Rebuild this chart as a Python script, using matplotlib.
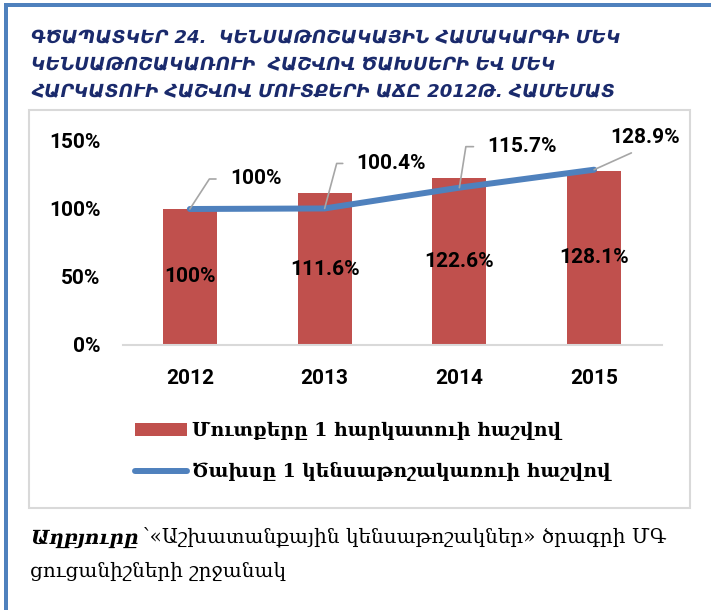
import matplotlib
matplotlib.use("Agg")
import matplotlib.pyplot as plt
from matplotlib.patches import Rectangle
import numpy as np

W, H = 711, 610
DPI = 100

years = ["2012", "2013", "2014", "2015"]
income_per_taxpayer = [100, 111.6, 122.6, 128.1]
expense_per_pensioner = [100, 100.4, 115.7, 128.9]
yticks = [0, 50, 100, 150]
ytick_labels = ["0%", "50%", "100%", "150%"]
legend_labels = ["Մուտքերը 1 հարկատուի հաշվով", "Ծախսը 1 կենսաթոշակառուի հաշվով"]
title_lines = ["ԳԾԱՊԱՏԿԵՐ 24.  ԿԵՆՍԱԹՈՇԱԿԱՅԻՆ ՀԱՄԱԿԱՐԳԻ ՄԵԿ",
               "ԿԵՆՍԱԹՈՇԱԿԱՌՈՒԻ  ՀԱՇՎՈՎ ԾԱԽՍԵՐԻ ԵՎ ՄԵԿ",
               "ՀԱՐԿԱՏՈՒԻ ՀԱՇՎՈՎ ՄՈՒՏՔԵՐԻ ԱՃԸ 2012Թ. ՀԱՄԵՄԱՏ"]
source_bold = "Աղբյուրը"
source_line1 = " ՝«Աշխատանքային կենսաթոշակներ» ծրագրի ՄԳ"
source_line2 = "ցուցանիշների շրջանակ"

BAR_C = "#C0504D"
LINE_C = "#4F81BD"
NUM_FONT = ["Roboto", "DejaVu Sans"]
ARM_SERIF = ["DejaVu Serif", "DejaVu Sans"]
NUM_SIZE = 15


def fx(px):
    return px / W


def fy(py):
    return 1 - py / H


def pct(v):
    return f"{v:g}%"


fig = plt.figure(figsize=(W / DPI, H / DPI), dpi=DPI)
fig.patch.set_facecolor("white")

# blue page borders (top & left)
fig.patches.append(Rectangle((fx(4), fy(7)), fx(711) - fx(4), 4 / H, transform=fig.transFigure,
                             facecolor=LINE_C, edgecolor="none", zorder=-2))
fig.patches.append(Rectangle((fx(4), 0), 4 / W, fy(3), transform=fig.transFigure,
                             facecolor=LINE_C, edgecolor="none", zorder=-2))
# chart frame
fig.patches.append(Rectangle((fx(29), fy(508)), fx(690) - fx(29), (508 - 110) / H,
                             transform=fig.transFigure, facecolor="white",
                             edgecolor="#D9D9D9", linewidth=1.5, zorder=-1))

# title
for i, line in enumerate(title_lines):
    fig.text(fx(31), fy(43 + 27 * i), line, family=["DejaVu Sans"], style="italic",
             fontweight="bold", fontsize=13.1, color="#1A2A6C", va="baseline", ha="left")

# axes
ax_left, ax_right = 122.5, 661.5
ax_bottom, ax_top = 345, 141
ax = fig.add_axes([fx(ax_left), fy(ax_bottom), (ax_right - ax_left) / W, (ax_bottom - ax_top) / H])
ax.set_zorder(1)
ax.set_facecolor("none")
x = np.arange(len(years))
bars = ax.bar(x, income_per_taxpayer, width=0.4, color=BAR_C, zorder=2)
line, = ax.plot(x, expense_per_pensioner, color=LINE_C, lw=4.3, solid_capstyle="round", zorder=3)
ax.set_xlim(-0.5, len(years) - 0.5)
ax.set_ylim(0, 150)
ax.set_yticks(yticks)
ax.set_yticklabels(ytick_labels)
ax.set_xticks(x)
ax.set_xticklabels(years)
for s in ["top", "right", "left"]:
    ax.spines[s].set_visible(False)
ax.spines["bottom"].set_color("#D9D9D9")
ax.spines["bottom"].set_linewidth(1.5)
ax.tick_params(axis="both", length=0)
ax.tick_params(axis="y", pad=16)
ax.tick_params(axis="x", pad=17)
for lab in ax.get_xticklabels() + ax.get_yticklabels():
    lab.set_fontfamily(NUM_FONT)
    lab.set_fontweight("bold")
    lab.set_fontsize(NUM_SIZE)

ax.bar_label(bars, labels=[pct(v) for v in income_per_taxpayer], label_type="center",
             fontsize=NUM_SIZE, fontweight="bold", family=NUM_FONT, color="black")

# line labels with leader lines (offsets in pixels from data point to label left-middle)
offsets = [(40, 30), (32, 45), (28, 41)]
angles = [57, 75, 81]
for i in range(3):
    ax.annotate(pct(expense_per_pensioner[i]), xy=(x[i], expense_per_pensioner[i]),
                xytext=offsets[i], textcoords="offset pixels", ha="left", va="center",
                fontsize=NUM_SIZE, fontweight="bold", family=NUM_FONT, annotation_clip=False,
                arrowprops=dict(arrowstyle="-", color="#A6A6A6", lw=1.2,
                                connectionstyle=f"angle,angleA=0,angleB={angles[i]},rad=0",
                                relpos=(0, 0.5), shrinkA=8, shrinkB=0))
ax.annotate(pct(expense_per_pensioner[3]), xy=(x[3], expense_per_pensioner[3]),
            xytext=(51, 23), textcoords="offset pixels", ha="center", va="bottom",
            fontsize=NUM_SIZE, fontweight="bold", family=NUM_FONT, annotation_clip=False,
            arrowprops=dict(arrowstyle="-", color="#A6A6A6", lw=1.2,
                            relpos=(0.5, 0), shrinkA=6, shrinkB=0))

# legend
leg = fig.legend([bars, line], legend_labels, loc="upper left",
                 bbox_to_anchor=(fx(127), fy(414)), frameon=False,
                 prop={"family": ARM_SERIF, "weight": "bold", "size": 13.5},
                 handlelength=2.8, handletextpad=0.25, labelspacing=1.2, borderaxespad=0)

# source
fig.text(fx(30), fy(544), source_bold, family=ARM_SERIF, weight="bold", style="italic",
         fontsize=14.4, va="baseline", ha="left")
fig.text(fx(136), fy(544), source_line1, family=ARM_SERIF, fontsize=14.4, va="baseline", ha="left")
fig.text(fx(30), fy(577), source_line2, family=ARM_SERIF, fontsize=14.4, va="baseline", ha="left")

fig.savefig("out.png", dpi=DPI)
